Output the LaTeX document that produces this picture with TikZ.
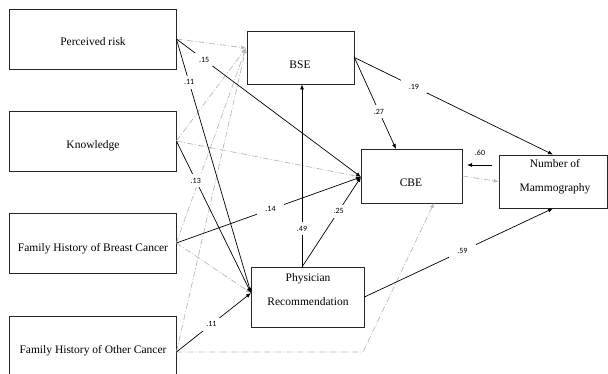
\documentclass[tikz,border=0pt]{standalone}
\usepackage{fontspec}
\setmainfont{Liberation Serif}
\newfontfamily\lblfont{Carlito}
\usetikzlibrary{arrows.meta}
\begin{document}
\begin{tikzpicture}[x=1pt,y=-1pt,
  box/.style={draw=black!85, line width=0.8pt, inner sep=0pt},
  txt/.style={font=\fontsize{11.5}{13}\selectfont, inner sep=0pt, align=center},
  lbl/.style={font=\lblfont\fontsize{8}{9}\selectfont, fill=white, inner xsep=5pt, inner ysep=4pt},
  blk/.style={draw=black, line width=0.7pt, -{Latex[length=5pt,width=4pt]}},
  gry/.style={draw=black!28, line width=0.7pt, dash pattern=on 6pt off 2pt on 1pt off 2pt, -{Latex[length=5pt,width=4pt]}}]
\useasboundingbox (0,0) rectangle (608,373);
% boxes
\node[box, minimum width=167pt, minimum height=60pt] (pr) at (92.5,39) {};
\node[box, minimum width=167pt, minimum height=60pt] (kn) at (92.5,141) {};
\node[box, minimum width=167pt, minimum height=60pt] (fhbc) at (92.5,243) {};
\node[box, minimum width=167pt, minimum height=72pt] (fhoc) at (92.5,352) {};
\node[box, minimum width=107pt, minimum height=53pt] (bse) at (300.5,57.5) {};
\node[box, minimum width=101pt, minimum height=54pt] (cbe) at (411.5,176) {};
\node[box, minimum width=113pt, minimum height=60pt] (phys) at (307.5,297) {};
\node[box, minimum width=108pt, minimum height=53pt] (mam) at (553,181.5) {};
% texts
\node[txt] (prt) at (93,42) {Perceived risk};
\node[txt] (knt) at (93,146) {Knowledge};
\node[txt] (fhbct) at (93,249) {Family History of Breast Cancer};
\node[txt] (fhoct) at (93,351) {Family History of Other Cancer};
\node[txt] (bset) at (300,65) {BSE};
\node[txt] (cbet) at (411,183) {CBE};
\node[txt] (physt) at (308,290) {Physician\\[11pt]Recommendation};
\node[txt] (mamt) at (555,177) {Number of\\[11pt]Mammography};
% connection points
\coordinate (bsein) at (246,48);
\coordinate (cbein) at (361,177);
\coordinate (physin) at (251,293);
\coordinate (corner) at (363,352);
\coordinate (cbebot) at (434,203);
\coordinate (phystop) at (302,267);
\coordinate (e60a) at (492,165);
\coordinate (e60b) at (467,165);
% gray dash-dot paths
\draw[gry] (pr.east) -- (bsein);
\draw[gry] (kn.east) -- (bsein);
\draw[gry] (fhbc.east) -- (bsein);
\draw[gry] (fhoc.east) -- (bsein);
\draw[gry] (kn.east) -- (cbein);
\draw[gry] (fhbc.east) -- (physin);
\draw[gry] (fhoc.east) -- (corner) -- (cbebot);
\draw[gry] (cbe.east) -- (mam.west);
% black paths
\draw[blk] (pr.east) -- node[lbl, pos=0.15] (l1) {.15} (cbein);
\draw[blk] (pr.east) -- node[lbl, pos=0.17] (l2) {.11} (physin);
\draw[blk] (kn.east) -- node[lbl, pos=0.26] (l3) {.13} (physin);
\draw[blk] (fhbc.east) -- node[lbl, pos=0.51, inner xsep=8pt] (l4) {.14} (cbein);
\draw[blk] (fhoc.east) -- node[lbl, pos=0.47] (l5) {.11} (physin);
\draw[blk] (phystop) -- node[lbl, pos=0.21] (l6) {.49} (phystop |- bse.south);
\draw[blk] (phystop) -- node[lbl, pos=0.62] (l7) {.25} (cbein);
\draw[blk] (bse.east) -- node[lbl, pos=0.59] (l8) {.27} (396,149);
\draw[blk] (bse.east) -- node[lbl, pos=0.30, inner xsep=8pt] (l9) {.19} (mam.north);
\draw[blk] (phys.east) -- node[lbl, pos=0.52, inner xsep=8pt] (l10) {.59} (mam.south);
\draw[blk] (e60a) -- (e60b);
\node[lbl] (l11) at (480,153) {.60};
\end{tikzpicture}
\end{document}
